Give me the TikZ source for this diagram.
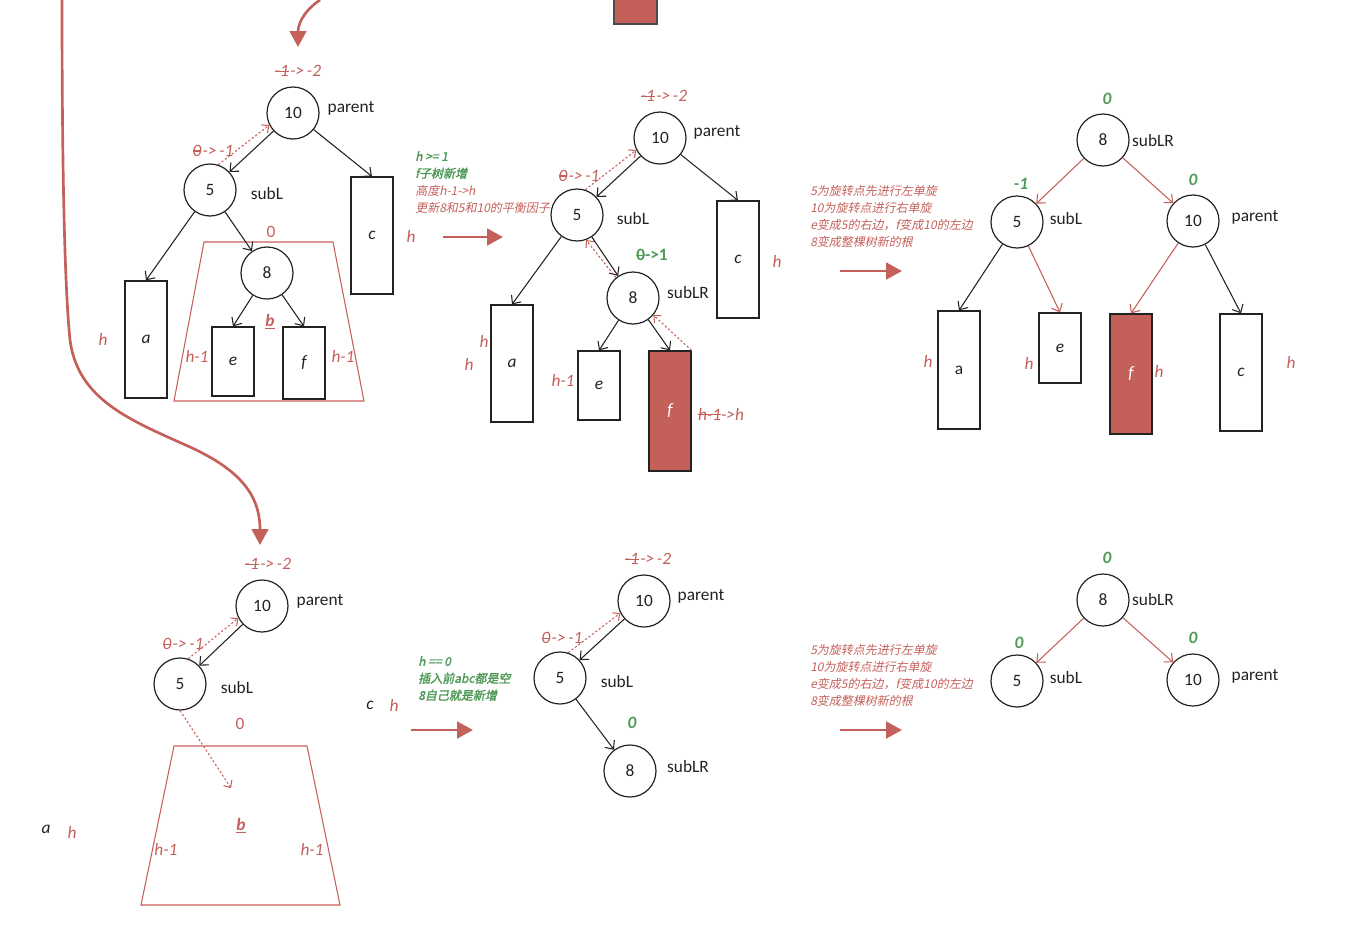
\documentclass[tikz,border=0pt]{standalone}
\usepackage{fontspec}
\setmainfont{Carlito}
\newfontfamily\cjk[FakeSlant=0.2]{Noto Sans CJK SC}
\newfontfamily\cjkb[FakeSlant=0.2,FakeBold=2]{Noto Sans CJK SC}
\usetikzlibrary{arrows.meta}
\definecolor{myred}{HTML}{C4605A}
\definecolor{mygreen}{HTML}{4F9A57}
\definecolor{txt}{HTML}{222222}
\newcommand{\stk}[1]{\setbox0\hbox{#1}\rlap{\rule[0.28em]{\wd0}{0.07em}}\box0}
\tikzset{
 nd/.style={circle,draw=txt,line width=0.9pt,minimum size=39pt,inner sep=0pt,text=txt,font=\fontsize{13}{15}\selectfont},
 bx/.style={draw=txt,line width=0.9pt,minimum width=31.5pt,inner sep=0pt,text=txt,font=\fontsize{13}{15}\selectfont\itshape},
 rbx/.style={bx,fill=myred,text=white},
 lbl/.style={font=\fontsize{13}{15}\selectfont,text=txt,inner sep=1pt},
 rl/.style={font=\fontsize{13}{15}\selectfont\itshape,text=myred,inner sep=1pt},
 ru/.style={font=\fontsize{13}{15}\selectfont,text=myred,inner sep=1pt},
 gl/.style={font=\fontsize{13}{15}\selectfont\bfseries\itshape,text=mygreen,inner sep=1pt},
 arr/.style={-{Straight Barb[length=5pt,width=9pt]},line width=0.8pt,draw=txt},
 rarr/.style={-{Straight Barb[length=5pt,width=9pt]},line width=0.8pt,draw=myred},
 darr/.style={-{Straight Barb[length=4pt,width=7.5pt]},dash pattern=on 1.6pt off 1.6pt,draw=myred,line width=0.8pt},
 big/.style={-{Triangle[length=12pt,width=12.5pt]},line width=2.2pt,draw=myred},
 ann/.style={anchor=north west,align=left,inner sep=0pt,font=\cjk\fontsize{9}{12.75}\selectfont,text=myred},
 gann/.style={anchor=north west,align=left,inner sep=0pt,font=\cjkb\fontsize{9}{12.75}\selectfont,text=mygreen}
}
\begin{document}
\begin{tikzpicture}[x=0.75pt,y=-0.75pt]
\useasboundingbox (0,0) rectangle (1364,932);
% ---------- top decorations ----------
\fill[myred,draw=black!70,line width=0.8pt] (614,-2) rectangle (657,24);
\coordinate (c1s) at (320,0);
\coordinate (c1e) at (298,47);
\draw[big,line width=2pt] (c1s) .. controls (302,12) and (298,26) .. (c1e);
\coordinate (c2s) at (62,-2);
\coordinate (c2e) at (260,545);
\draw[big,line width=2pt] (c2s) .. controls (62,150) and (64,280) .. (70,340) .. controls (78,400) and (130,420) .. (190,447) .. controls (240,470) and (260,495) .. (c2e);

% ---------- top-left tree ----------
\node[nd] (tl10) at (293,113) {10};
\node[nd] (tl5) at (210,190) {5};
\node[nd] (tl8) at (267,273) {8};
\node[bx,minimum height=87.75pt] (tlc) at (372,235.5) {c};
\node[bx,minimum height=87.75pt] (tla) at (146,339.5) {a};
\node[bx,minimum height=51.75pt] (tle) at (233,361.5) {e};
\node[bx,minimum height=54pt] (tlf) at (304,363) {f};
\draw[myred,line width=0.8pt] (204,242) -- (333,242) -- (364,401) -- (174,401) -- cycle;
\node[lbl] (tlp) at (351,108) {parent};
\node[lbl] (tls) at (267,194) {subL};
\node[rl] (tlbf1) at (298,71) {\stk{-1}\kern1pt->\kern2pt-2};
\node[rl] (tlbf2) at (213,151) {\stk{0}\kern1pt->\kern2pt-1};
\node[ru] (tlz) at (271,232) {0};
\node[rl,font=\fontsize{13}{15}\selectfont\bfseries\itshape] (tlb) at (270,322) {\underline{b}};
\node[rl] (tlh1) at (411,236) {h};
\node[rl] (tlh2) at (103,339) {h};
\node[rl] (tlh3) at (197,356) {h-1};
\node[rl] (tlh4) at (343,356) {h-1};
\draw[arr] (tl10) -- (tl5);
\draw[darr] (tl5.72) -- (tl10.207);
\draw[arr] (tl10) -- (tlc.north);
\draw[arr] (tl5) -- (tla.north);
\draw[arr] (tl5) -- (tl8);
\draw[arr] (tl8) -- (tle.north);
\draw[arr] (tl8) -- (tlf.north);

% annotation 1
\node[gann] (an1) at (415,151) {h >= 1\\f子树新增};
\node[ann] (an2) at (415,185) {高度h-1->h\\更新8和5和10的平衡因子};
\coordinate (b1s) at (443,237);
\coordinate (b1e) at (503,237);
\draw[big] (b1s) -- (b1e);

% ---------- middle tree ----------
\node[nd] (m10) at (660,138) {10};
\node[nd] (m5) at (577,215) {5};
\node[nd] (m8) at (633,298) {8};
\node[bx,minimum height=87.75pt] (mc) at (738,259.5) {c};
\node[bx,minimum height=87.75pt] (ma) at (512,363.5) {a};
\node[bx,minimum height=51.75pt] (me) at (599,385.5) {e};
\node[rbx,minimum height=90pt] (mf) at (670,411) {f};
\node[lbl] (mp) at (717,132) {parent};
\node[lbl] (ms) at (633,219) {subL};
\node[lbl] (mslr) at (688,293) {subLR};
\node[rl] (mbf1) at (664,96) {\stk{-1}\kern1pt->\kern2pt-2};
\node[rl] (mbf2) at (579,176) {\stk{0}\kern1pt->\kern2pt-1};
\node[gl,font=\fontsize{13}{15}\selectfont\bfseries] (mbf3) at (652,255) {\stk{0}->1};
\node[rl] (mh1) at (777,261) {h};
\node[rl] (mh2) at (484,341) {h};
\node[rl] (mh3) at (469,364) {h};
\node[rl] (mh4) at (563,380) {h-1};
\node[rl] (mh5) at (721,414) {\stk{h-1}->h};
\draw[arr] (m10) -- (m5);
\draw[darr] (m5.72) -- (m10.207);
\draw[arr] (m10) -- (mc.north);
\draw[arr] (m5) -- (ma.north);
\draw[arr] (m5) -- (m8);
\draw[darr] (m8.130) -- (m5.290);
\draw[arr] (m8) -- (me.north);
\draw[arr] (m8) -- (mf.north);
\draw[darr] (mf.north east) -- (m8.-40);

% annotation 2
\node[ann] (an3) at (810,185) {5为旋转点先进行左单旋\\10为旋转点进行右单旋\\e变成5的右边，f变成10的左边\\8变成整棵树新的根};
\coordinate (b2s) at (840,271);
\coordinate (b2e) at (902,271);
\draw[big] (b2s) -- (b2e);

% ---------- right tree ----------
\node[nd] (r8) at (1103,140) {8};
\node[nd] (r5) at (1017,222) {5};
\node[nd] (r10) at (1193,221) {10};
\node[bx,minimum height=88.5pt,font=\fontsize{13}{15}\selectfont] (ra) at (959,370) {a};
\node[bx,minimum height=52.5pt] (re) at (1060,348) {e};
\node[rbx,minimum height=90pt] (rf) at (1131,374) {f};
\node[bx,minimum height=87.75pt] (rc) at (1241,372.5) {c};
\node[lbl] (rslr) at (1153,141) {subLR};
\node[lbl] (rs) at (1066,219) {subL};
\node[lbl] (rp) at (1255,217) {parent};
\node[gl] (rg1) at (1107,99) {0};
\node[gl] (rg2) at (1021,184) {-1};
\node[gl] (rg3) at (1193,180) {0};
\node[rl] (rh1) at (928,361) {h};
\node[rl] (rh2) at (1029,363) {h};
\node[rl] (rh3) at (1159,371) {h};
\node[rl] (rh4) at (1291,362) {h};
\draw[rarr] (r8) -- (r5);
\draw[rarr] (r8) -- (r10);
\draw[arr] (r5) -- (ra.north);
\draw[rarr] (r5) -- (re.north);
\draw[rarr] (r10) -- (rf.north);
\draw[arr] (r10) -- (rc.north);

% ---------- bottom-left ----------
\node[nd] (bl10) at (262,606) {10};
\node[nd] (bl5) at (180,684) {5};
\node[lbl] (blp) at (320,601) {parent};
\node[lbl] (bls) at (237,688) {subL};
\node[rl] (blbf1) at (268,564) {\stk{-1}\kern1pt->\kern2pt-2};
\node[rl] (blbf2) at (183,644) {\stk{0}\kern1pt->\kern2pt-1};
\node[ru] (blz) at (240,724) {0};
\draw[myred,line width=0.8pt] (174,746) -- (307,746) -- (340,905) -- (141,905) -- cycle;
\node[rl,font=\fontsize{13}{15}\selectfont\bfseries\itshape] (blb) at (241,826) {\underline{b}};
\node[rl] (blh1) at (166,849) {h-1};
\node[rl] (blh2) at (312,849) {h-1};
\node[lbl,font=\fontsize{13}{15}\selectfont\itshape] (bla) at (46,829) {a};
\node[rl] (blh3) at (72,832) {h};
\node[lbl,font=\fontsize{13}{15}\selectfont\itshape] (blc) at (370,705) {c};
\node[rl] (blh4) at (394,705) {h};
\coordinate (bld) at (231,788);
\draw[arr] (bl10) -- (bl5);
\draw[darr] (bl5.72) -- (bl10.207);
\draw[darr] (bl5.south) -- (bld);

% annotation 3
\node[gann] (an4) at (418,656) {h == 0\\插入前abc都是空\\8自己就是新增};
\coordinate (b3s) at (411,730);
\coordinate (b3e) at (473,730);
\draw[big] (b3s) -- (b3e);

% ---------- bottom-middle ----------
\node[nd] (bm10) at (644,601) {10};
\node[nd] (bm5) at (560,678) {5};
\node[nd] (bm8) at (630,771) {8};
\node[lbl] (bmp) at (701,596) {parent};
\node[lbl] (bms) at (617,682) {subL};
\node[lbl] (bmslr) at (688,767) {subLR};
\node[rl] (bmbf1) at (648,559) {\stk{-1}\kern1pt->\kern2pt-2};
\node[rl] (bmbf2) at (562,638) {\stk{0}\kern1pt->\kern2pt-1};
\node[gl] (bmg) at (632,723) {0};
\draw[arr] (bm10) -- (bm5);
\draw[darr] (bm5.72) -- (bm10.207);
\draw[arr] (bm5) -- (bm8);

% annotation 4
\node[ann] (an5) at (810,644) {5为旋转点先进行左单旋\\10为旋转点进行右单旋\\e变成5的右边，f变成10的左边\\8变成整棵树新的根};
\coordinate (b4s) at (840,730);
\coordinate (b4e) at (902,730);
\draw[big] (b4s) -- (b4e);

% ---------- bottom-right ----------
\node[nd] (br8) at (1103,600) {8};
\node[nd] (br5) at (1017,681) {5};
\node[nd] (br10) at (1193,680) {10};
\node[lbl] (brslr) at (1153,600) {subLR};
\node[lbl] (brs) at (1066,678) {subL};
\node[lbl] (brp) at (1255,676) {parent};
\node[gl] (brg1) at (1107,558) {0};
\node[gl] (brg2) at (1019,643) {0};
\node[gl] (brg3) at (1193,638) {0};
\draw[rarr] (br8) -- (br5);
\draw[rarr] (br8) -- (br10);
\end{tikzpicture}
\end{document}
